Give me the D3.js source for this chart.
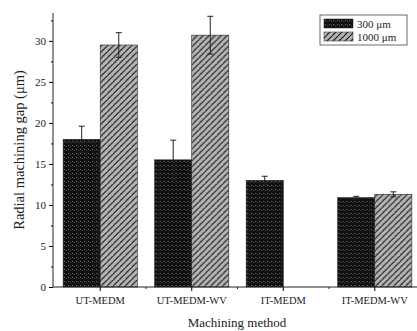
<!DOCTYPE html>
<html><head><meta charset="utf-8">
<script src="https://cdn.jsdelivr.net/npm/d3@7"></script>
<style>body{margin:0;background:#fff}svg{display:block}text{font-family:"Liberation Serif","Times New Roman",serif;fill:#222}</style>
</head><body><svg id="c" width="417" height="331"></svg>
<script>
const categories = ["UT-MEDM","UT-MEDM-WV","IT-MEDM","IT-MEDM-WV"];
const seriesNames = ["300 μm","1000 μm"];
const values300 = [18.0, 15.5, 13.0, 10.9];
const values1000 = [29.5, 30.7, 0.0, 11.3];
const err300 = [1.6, 2.4, 0.5, 0.15];
const err1000 = [1.5, 2.3, 0.0, 0.3];
const yTicks = [0,5,10,15,20,25,30];

const svg = d3.select("#c");
const defs = svg.append("defs");
// dark speckled pattern
const pd = defs.append("pattern").attr("id","pDark").attr("patternUnits","userSpaceOnUse").attr("width",4).attr("height",4);
pd.append("rect").attr("width",4).attr("height",4).attr("fill","#111");
pd.append("rect").attr("x",1).attr("y",1).attr("width",1).attr("height",1).attr("fill","#777");
pd.append("rect").attr("x",3).attr("y",2).attr("width",1).attr("height",1).attr("fill","#4a4a4a");
// hatched pattern
const ph = defs.append("pattern").attr("id","pHatch").attr("patternUnits","userSpaceOnUse").attr("width",6).attr("height",6);
ph.append("rect").attr("width",6).attr("height",6).attr("fill","#b4b4b4");
ph.append("rect").attr("x",1).attr("y",3).attr("width",1).attr("height",1).attr("fill","#eee");
ph.append("rect").attr("x",3).attr("y",1).attr("width",1).attr("height",1).attr("fill","#8a8a8a");
ph.append("path").attr("d","M-1,7 L7,-1 M-1,1 L1,-1 M5,7 L7,5").attr("stroke","#1a1a1a").attr("stroke-width",1.1);

const x0 = d3.scaleBand().domain(categories).range([54,421]).paddingInner(0.19).paddingOuter(0.1);
const x1 = d3.scaleBand().domain(seriesNames).range([0,x0.bandwidth()]);
const y = d3.scaleLinear().domain([0,33.4]).range([287,13]);

const data = categories.map((c,i)=>({c, vals:[
  {s:seriesNames[0], v:values300[i], e:err300[i], fill:"url(#pDark)"},
  {s:seriesNames[1], v:values1000[i], e:err1000[i], fill:"url(#pHatch)"}]}));

const g = svg.selectAll("g.grp").data(data).join("g").attr("class","grp")
  .attr("transform",d=>`translate(${x0(d.c)},0)`);
g.selectAll("rect").data(d=>d.vals).join("rect")
  .attr("x",d=>x1(d.s)).attr("width",x1.bandwidth())
  .attr("y",d=>y(d.v)).attr("height",d=>y(0)-y(d.v))
  .attr("fill",d=>d.fill).attr("stroke","#222").attr("stroke-width",0.6);
// error bars
const eb = g.selectAll("g.eb").data(d=>d.vals.filter(v=>v.e>0)).join("g").attr("class","eb");
const cx = d=>x1(d.s)+x1.bandwidth()/2;
eb.append("line").attr("x1",cx).attr("x2",cx)
  .attr("y1",d=>y(d.v-d.e)).attr("y2",d=>y(d.v+d.e)).attr("stroke","#222").attr("stroke-width",1);
eb.append("line").attr("x1",d=>cx(d)-3).attr("x2",d=>cx(d)+3)
  .attr("y1",d=>y(d.v+d.e)).attr("y2",d=>y(d.v+d.e)).attr("stroke","#222").attr("stroke-width",1);
eb.append("line").attr("x1",d=>cx(d)-3).attr("x2",d=>cx(d)+3)
  .attr("y1",d=>y(d.v-d.e)).attr("y2",d=>y(d.v-d.e)).attr("stroke","#222").attr("stroke-width",1);

// y axis
const yAx = svg.append("g").attr("transform","translate(53,0)")
  .call(d3.axisLeft(y).tickValues(yTicks).tickSize(4).tickSizeOuter(0).tickPadding(3));
yAx.select(".domain").remove();
yAx.selectAll("text").style("font-size","11px").attr("font-family","Liberation Serif");
svg.append("g").attr("transform","translate(53,0)")
  .call(d3.axisLeft(y).tickValues(d3.range(2.5,33,5)).tickSize(2).tickFormat(""))
  .select(".domain").remove();
svg.append("line").attr("x1",53).attr("x2",53).attr("y1",y(33.4)).attr("y2",y(0)).attr("stroke","#222");

// x axis
const xAx = svg.append("g").attr("transform","translate(0,287)")
  .call(d3.axisBottom(x0).tickSize(4).tickSizeOuter(0).tickPadding(6));
xAx.select(".domain").remove();
xAx.selectAll("text").style("font-size","10.5px").attr("font-family","Liberation Serif");
svg.append("line").attr("x1",53).attr("x2",417).attr("y1",287).attr("y2",287).attr("stroke","#222").attr("stroke-width",1.1);
// minor x ticks at group boundaries
const bounds = categories.slice(1).map((c,i)=>(x0(categories[i])+x0.bandwidth()+x0(c))/2);
svg.selectAll("line.mx").data(bounds).join("line").attr("class","mx")
  .attr("x1",d=>d).attr("x2",d=>d).attr("y1",287).attr("y2",289).attr("stroke","#222");

// axis titles
svg.append("text").attr("transform","translate(24,150) rotate(-90)").attr("text-anchor","middle")
  .style("font-size","14.5px").text("Radial machining gap (μm)");
svg.append("text").attr("x",237).attr("y",327).attr("text-anchor","middle")
  .style("font-size","13px").text("Machining method");

// legend
const lg = svg.append("g");
lg.append("rect").attr("x",320).attr("y",15).attr("width",87).attr("height",30).attr("fill","#fff").attr("stroke","#444").attr("stroke-width",0.8);
const li = lg.selectAll("g.li").data([{s:seriesNames[0],f:"url(#pDark)"},{s:seriesNames[1],f:"url(#pHatch)"}]).join("g").attr("class","li")
  .attr("transform",(d,i)=>`translate(324,${19+i*13})`);
li.append("rect").attr("width",29).attr("height",9).attr("fill",d=>d.f).attr("stroke","#222").attr("stroke-width",0.5);
li.append("text").attr("x",33).attr("y",8.5).style("font-size","11px").text(d=>d.s);
</script></body></html>
